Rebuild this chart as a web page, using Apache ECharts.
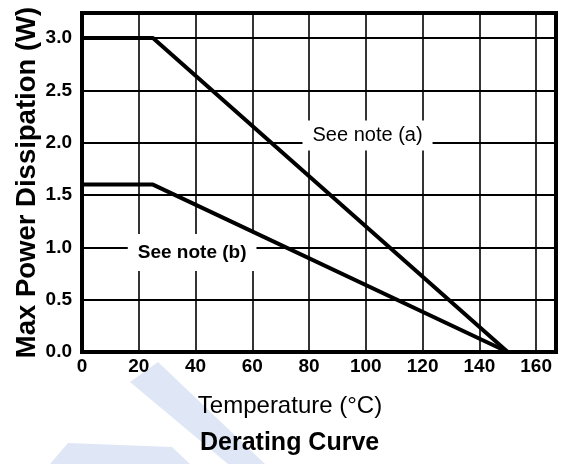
<!DOCTYPE html>
<html>
<head>
<meta charset="utf-8">
<script src="https://cdn.jsdelivr.net/npm/echarts@6/dist/echarts.min.js"></script>
<style>html,body{margin:0;padding:0;background:#fff}#c{width:567px;height:464px}</style>
</head>
<body>
<div id="c"></div>
<script>
// Data
var temperatureA = [0, 25, 150];
var powerA = [3.0, 3.0, 0.0];
var temperatureB = [0, 25, 150];
var powerB = [1.6, 1.6, 0.0];
var noteLabels = ['See note (a)', 'See note (b)'];
var notePositions = [[100.6, 2.07], [38.8, 0.95]];
var xTitle = 'Temperature (°C)';
var yTitle = 'Max Power Dissipation (W)';
var chartTitle = 'Derating Curve';

function pairs(xs, ys) { return xs.map(function (x, i) { return [x, ys[i]]; }); }

var chart = echarts.init(document.getElementById('c'), null, { renderer: 'canvas' });
var F = 'Liberation Sans';
function noteSeries(i, weight, size, pad) {
  return {
    type: 'scatter', symbolSize: 0, z: 4, silent: true,
    itemStyle: { color: '#000', opacity: 1 },
    data: [notePositions[i]],
    label: {
      show: true, position: [0, 0], align: 'center', verticalAlign: 'middle',
      formatter: noteLabels[i], opacity: 1,
      color: '#000', textBorderWidth: 0, fontFamily: F, fontWeight: weight, fontSize: size,
      backgroundColor: '#fff', padding: pad
    }
  };
}
chart.setOption({
  animation: false,
  backgroundColor: '#fff',
  title: {
    text: chartTitle, left: 200, top: 431, padding: 0,
    textStyle: { fontFamily: F, fontWeight: 'bold', fontSize: 25, color: '#000' }
  },
  graphic: [
    { type: 'polygon', z: -10, silent: true,
      shape: { points: [[158, 362], [265, 464], [228, 464], [130, 382]] },
      style: { fill: '#dfe7f6' } },
    { type: 'polygon', z: -10, silent: true,
      shape: { points: [[68, 443], [172, 447], [190, 464], [50, 464]] },
      style: { fill: '#dfe7f6' } }
  ],
  grid: {
    left: 82, top: 13, right: 11, bottom: 112, outerBoundsMode: 'none', containLabel: false,
    show: true, borderColor: '#000', borderWidth: 4, backgroundColor: 'transparent'
  },
  xAxis: {
    type: 'value', min: 0, max: 167, interval: 20,
    name: xTitle, nameLocation: 'middle', nameGap: 42,
    nameTextStyle: { fontFamily: F, fontSize: 24, color: '#000', padding: [0, 58, 0, 0] },
    axisLine: { show: false },
    axisTick: { show: false },
    axisLabel: { showMaxLabel: false, margin: 5, color: '#000', fontFamily: F, fontWeight: 'bold', fontSize: 19 },
    splitLine: { show: true, lineStyle: { color: '#000', width: 1.6 } }
  },
  yAxis: {
    type: 'value', min: 0, max: 3.24, interval: 0.5,
    name: yTitle, nameLocation: 'middle', nameGap: 41, nameRotate: 90, nameMoveOverlap: false,
    nameTextStyle: { fontFamily: F, fontWeight: 'bold', fontSize: 27.5, color: '#000' },
    axisLine: { show: false },
    axisTick: { show: false },
    axisLabel: { showMaxLabel: false, margin: 10, color: '#000', fontFamily: F, fontWeight: 'bold', fontSize: 19,
      formatter: function (v) { return v.toFixed(1); } },
    splitLine: { show: true, lineStyle: { color: '#000', width: 2 } }
  },
  series: [
    { type: 'line', data: pairs(temperatureA, powerA), symbol: 'none', z: 5,
      lineStyle: { color: '#000', width: 4 } },
    { type: 'line', data: pairs(temperatureB, powerB), symbol: 'none', z: 5,
      lineStyle: { color: '#000', width: 4 } },
    noteSeries(0, 'normal', 20, [5, 10, 5, 10]),
    noteSeries(1, 'bold', 19, [11, 10, 7, 10])
  ]
});
</script>
</body>
</html>
